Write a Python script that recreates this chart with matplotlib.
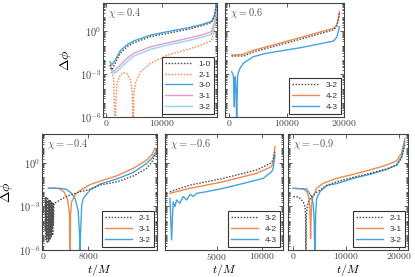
import numpy as np
import matplotlib
matplotlib.use('Agg')
import matplotlib.pyplot as plt
from matplotlib.ticker import FixedLocator, LogLocator, NullFormatter

# ---- data (t/M, delta phi) ----
# chi = 0.4
t04_10 = [730, 1030, 1640, 2550, 3760, 4970, 8000, 11030, 14670, 17090, 18900, 19450, 19820]
d04_10 = [4.5e-3, 2.0e-3, 5.9e-3, 3.0e-2, 8.5e-2, 0.16, 0.44, 0.74, 1.4, 2.5, 4.2, 10.5, 72]
t04_21 = [910, 1330, 1480, 1520, 1720, 1760, 1940, 2550, 3150, 3760, 4360, 4700, 4850, 5000,
          5270, 6180, 8000, 11030, 14670, 17090, 18900, 19450, 19820]
d04_21 = [1.5e-3, 6.8e-4, 1e-5, 1e-7, 1e-7, 1e-5, 2.3e-4, 8.9e-4, 1.3e-3, 1.1e-3, 4.0e-4, 5e-5, 1e-7, 5e-5,
          2.3e-4, 1.5e-3, 5.9e-3, 2.2e-2, 5.6e-2, 0.112, 0.224, 1.3, 14.5]
t04_30 = [700, 1030, 1640, 2550, 3760, 4970, 8000, 11030, 14670, 17090, 18900, 19450, 19820]
d04_30 = [7.6e-3, 4.5e-3, 1.0e-2, 4.5e-2, 0.117, 0.22, 0.56, 0.98, 1.8, 3.0, 5.1, 14.5, 85]
t04_3x = [730, 1330, 1940, 2850, 3760, 4970, 8000, 11030, 14670, 17090, 18900, 19450, 19820]
d04_31 = [2.6e-3, 1.5e-3, 2.6e-3, 5.9e-3, 1.3e-2, 3.0e-2, 8.5e-2, 0.16, 0.33, 0.56, 0.98, 4.7, 38]
d04_32 = [4.5e-3, 1.15e-3, 1.5e-3, 3.4e-3, 7.6e-3, 1.9e-2, 5.6e-2, 0.112, 0.224, 0.39, 0.63, 2.9, 23]

# chi = 0.6
t06 = [460, 2490, 4230, 6550, 12350, 18150, 18730, 19020, 19200]
d06_32 = [1.9e-2, 1.9e-2, 3.6e-2, 6.6e-2, 0.28, 1.3, 2.2, 6.5, 18.6]
d06_42 = [2.2e-2, 2.5e-2, 4.8e-2, 8.5e-2, 0.37, 1.66, 2.9, 8.3, 24.5]
t06_43 = [460, 600, 750, 925, 1000, 1100, 1250, 1335, 1420, 1510, 1910, 2490, 4230, 6550,
          12350, 18150, 18730, 19020, 19200]
d06_43 = [1.5e-3, 1.1e-3, 8.9e-4, 5.2e-6, 4.0e-4, 6.8e-4, 3.2e-5, 1e-7, 3.2e-5, 1.0e-3, 2.6e-3, 5.9e-3,
          1.7e-2, 3.0e-2, 7.2e-2, 0.21, 0.39, 0.98, 2.2]

# chi = -0.4
tm04_21 = [300, 360, 420, 480, 540, 600, 660, 720, 780, 840, 900, 960, 1020, 1080, 1140, 1200,
           1260, 1320, 1380, 1440, 1500, 1560, 1620, 1680, 1740, 1800,
           1900, 2970, 4150, 6520, 8000, 10080, 13050, 16000, 18380, 19330, 19860]
dm04_21 = [4e-3, 2e-5, 3e-3, 5e-6, 5e-3, 1e-5, 2.5e-3, 3e-6, 3.5e-3, 8e-6, 2e-3, 4e-6, 3e-3,
           1.5e-5, 1.8e-3, 5e-6, 2.5e-3, 2e-5, 1.5e-3, 8e-6, 2e-3, 3e-5, 1.3e-3, 1e-5, 1.6e-3, 5e-5,
           1.6e-3, 2.8e-3, 5e-3, 1.05e-2, 1.4e-2, 3.0e-2, 5e-2, 0.126, 0.43, 1.26, 3.5]
tm04_31 = [890, 2000, 2970, 3700, 4300, 4650, 4750, 4850, 5040, 5640, 6520, 8300, 10080, 13050,
           16000, 18380, 19330, 19860]
dm04_31 = [1.8e-2, 1.9e-2, 1.6e-2, 1.0e-2, 3.2e-3, 3.2e-4, 1e-7, 3.2e-4, 2.1e-3, 6.3e-3, 1.26e-2,
           3.2e-2, 5.6e-2, 0.13, 0.43, 1.6, 4.0, 10.7]
tm04_32 = [890, 2970, 4150, 5040, 5640, 6200, 6450, 6520, 6600, 6830, 7110, 8300, 10080, 13050,
           16000, 18380, 19330, 19860]
dm04_32 = [1.8e-2, 1.8e-2, 1.5e-2, 7.9e-3, 3.6e-3, 5e-4, 1e-5, 1e-7, 1e-5, 1.26e-3, 3.6e-3, 1.4e-2,
           3.5e-2, 7.9e-2, 0.224, 0.95, 2.2, 4.9]

# chi = -0.6
tm06 = [-250, 2000, 5720, 9450, 11130, 11310, 11500]
dm06_32 = [1.05e-2, 3.0e-2, 8.7e-2, 0.33, 1.05, 2.0, 6.0]
dm06_42 = [8.1e-3, 1.8e-2, 5.1e-2, 0.195, 0.56, 1.23, 13.5]
tm06_43 = [-250, -150, -60, 50, 125, 310, 500, 870, 1240, 1620, 2000, 2360, 2740, 3860, 5720,
           7580, 10200, 11130, 11310, 11500]
dm06_43 = [3.6e-3, 1e-4, 4.9e-6, 3.2e-4, 2.1e-3, 9.8e-4, 2.8e-3, 1.7e-3, 4.8e-3, 2.8e-3, 6.9e-3,
           5e-3, 8.1e-3, 1.05e-2, 1.8e-2, 3.4e-2, 8.7e-2, 0.25, 0.43, 3.5]

# chi = -0.9
tm09_21 = [100, 1040, 1360, 1990, 2300, 2420, 2490, 2560, 2750, 2930, 3560, 4510, 6400, 8290,
           11440, 14590, 17740, 19630, 20580, 21200]
dm09_21 = [4.8e-3, 4.5e-3, 3.6e-3, 2.1e-3, 9.8e-4, 2.5e-4, 1e-7, 2.5e-4, 1e-3, 2e-3, 4.8e-3, 9.5e-3,
           2.8e-2, 5.1e-2, 0.102, 0.195, 0.39, 0.72, 2.1, 17.4]
tm09_31 = [100, 1990, 2750, 3060, 3250, 3310, 3370, 3430, 3560, 3760, 4510, 5770, 8290, 11440,
           14590, 17740, 19630, 20580, 21200]
dm09_31 = [1.8e-2, 1.6e-2, 1e-2, 3.2e-3, 6.3e-4, 6.3e-5, 6.3e-6, 6.3e-5, 1.26e-3, 3.6e-3, 1.8e-2,
           4e-2, 8.7e-2, 0.166, 0.33, 0.72, 1.4, 4.7, 50]
tm09_32 = [100, 2620, 3560, 3880, 4050, 4190, 4330, 4510, 5140, 6400, 8290, 11440, 14590, 17740,
           19630, 20580, 21200]
dm09_32 = [1.8e-2, 1.6e-2, 4.8e-3, 1.26e-3, 1e-4, 1e-7, 3.2e-4, 3.6e-3, 1.05e-2, 2.8e-2, 3.8e-2,
           8.7e-2, 0.166, 0.355, 0.72, 2.75, 29.5]

# ---- style ----
plt.rcParams['font.family'] = 'serif'
plt.rcParams['font.serif'] = ['cmr10', 'DejaVu Serif']
plt.rcParams['mathtext.fontset'] = 'cm'
plt.rcParams['axes.formatter.use_mathtext'] = True
plt.rcParams['axes.edgecolor'] = '#444444'
plt.rcParams['axes.linewidth'] = 0.8

c_k = '#505050'
c_or = '#f0894f'
c_bl = '#45a2dc'
c_pk = '#e79ac9'
c_lb = '#98d2f0'
dots = (0, (1.1, 1.1))
lw = 1.0


def setup(ax, xlim, xticks, chi, show_y):
    ax.set_yscale('log')
    ax.set_ylim(1e-6, 1e2)
    ax.set_xlim(xlim)
    ax.set_xticks(xticks)
    ax.yaxis.set_major_locator(FixedLocator([1e-6, 1e-3, 1e0]))
    ax.yaxis.set_minor_locator(LogLocator(base=10, subs=np.arange(1, 10), numticks=50))
    ax.yaxis.set_minor_formatter(NullFormatter())
    ax.tick_params(which='both', direction='in', top=True, right=True, colors='#444444',
                   labelsize=7.5, width=0.6)
    ax.tick_params(which='major', length=3, pad=1.2)
    ax.tick_params(which='minor', length=1.5)
    ax.tick_params(axis='x', labelsize=7, pad=1)
    ax.text(0.04, 0.975, r'$\chi = %s$' % chi, transform=ax.transAxes, ha='left', va='top',
            fontsize=7.5, color='#555555')
    if not show_y:
        ax.set_yticklabels([])


def legend(ax):
    leg = ax.legend(loc='lower right', prop={'family': 'Liberation Sans', 'size': 6},
                    fancybox=False, edgecolor='#333333', framealpha=1, handlelength=3.2,
                    borderaxespad=0.35, labelspacing=0.35, borderpad=0.4)
    leg.get_frame().set_linewidth(0.8)
    for txt in leg.get_texts():
        txt.set_color('#333333')


fig = plt.figure(figsize=(4.15, 2.77), dpi=100)

# top row
ax1 = fig.add_axes([0.2482, 0.5776, 0.2747, 0.4116])
ax1.plot(t04_10, d04_10, color=c_k, ls=dots, lw=lw, label='1-0', zorder=4)
ax1.plot(t04_21, d04_21, color=c_or, ls=dots, lw=lw, label='2-1')
ax1.plot(t04_30, d04_30, color=c_bl, lw=lw, label='3-0')
ax1.plot(t04_3x, d04_31, color=c_pk, lw=lw, label='3-1')
ax1.plot(t04_3x, d04_32, color=c_lb, lw=lw, label='3-2')
setup(ax1, (-550, 19900), [0, 10000], '0.4', True)
ax1.set_ylabel(r'$\Delta\phi$', fontsize=10)
ax1.yaxis.set_label_coords(-0.255, 0.5)
legend(ax1)

ax2 = fig.add_axes([0.5422, 0.5776, 0.2867, 0.4116])
ax2.plot(t06, d06_32, color=c_k, ls=dots, lw=lw, label='3-2', zorder=4)
ax2.plot(t06, d06_42, color=c_or, lw=lw, label='4-2')
ax2.plot(t06_43, d06_43, color=c_bl, lw=lw, label='4-3')
setup(ax2, (-700, 20000), [0, 10000, 20000], '0.6', False)
legend(ax2)

# bottom row
ax3 = fig.add_axes([0.1012, 0.0975, 0.2771, 0.4188])
ax3.plot(tm04_21, dm04_21, color=c_k, ls=dots, lw=lw, label='2-1', zorder=4)
ax3.plot(tm04_31, dm04_31, color=c_or, lw=lw, label='3-1')
ax3.plot(tm04_32, dm04_32, color=c_bl, lw=lw, label='3-2')
setup(ax3, (-230, 20200), [0, 8000], '-0.4', True)
ax3.set_ylabel(r'$\Delta\phi$', fontsize=10)
ax3.yaxis.set_label_coords(-0.235, 0.5)
legend(ax3)

ax4 = fig.add_axes([0.3976, 0.0975, 0.2843, 0.4188])
ax4.plot(tm06, dm06_32, color=c_k, ls=dots, lw=lw, label='3-2', zorder=4)
ax4.plot(tm06, dm06_42, color=c_or, lw=lw, label='4-2')
ax4.plot(tm06_43, dm06_43, color=c_bl, lw=lw, label='4-3')
setup(ax4, (-800, 12400), [5000, 10000], '-0.6', False)
legend(ax4)

ax5 = fig.add_axes([0.6940, 0.0975, 0.2892, 0.4188])
ax5.plot(tm09_21, dm09_21, color=c_k, ls=dots, lw=lw, label='2-1', zorder=4)
ax5.plot(tm09_31, dm09_31, color=c_or, lw=lw, label='3-1')
ax5.plot(tm09_32, dm09_32, color=c_bl, lw=lw, label='3-2')
setup(ax5, (-900, 21800), [0, 10000, 20000], '-0.9', False)
legend(ax5)

for ax in (ax3, ax4, ax5):
    ax.set_xlabel(r'$t/M$', fontsize=8.5)
    ax.xaxis.set_label_coords(0.5, -0.1)

fig.savefig('out.png', dpi=100)
